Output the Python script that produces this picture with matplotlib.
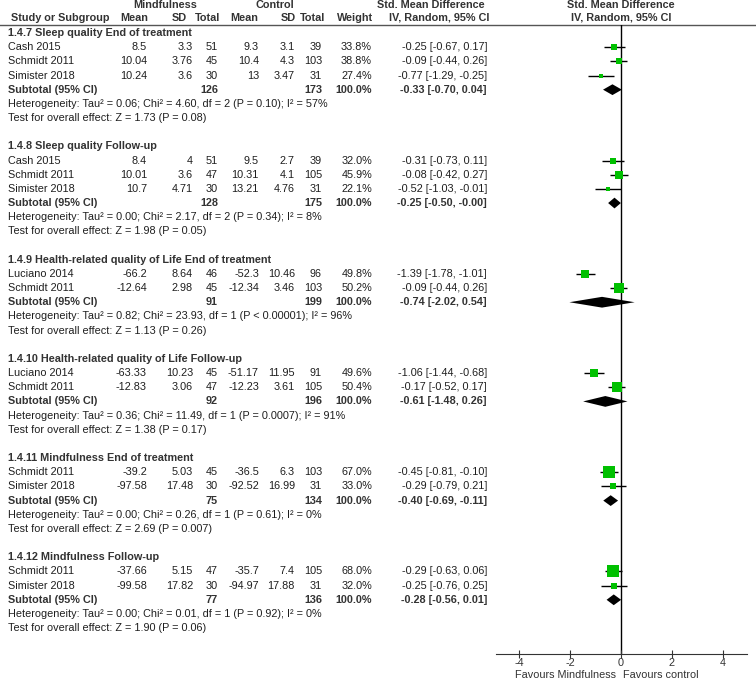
import numpy as np
import matplotlib
matplotlib.use("Agg")
import matplotlib.pyplot as plt

plt.rcParams['font.family'] = ['Liberation Sans', 'DejaVu Sans']
plt.rcParams['font.size'] = 7.8

# subgroup data
group_titles = ["1.4.7 Sleep quality End of treatment",
                "1.4.8 Sleep quality Follow-up",
                "1.4.9 Health-related quality of Life End of treatment",
                "1.4.10 Health-related quality of Life Follow-up",
                "1.4.11 Mindfulness End of treatment",
                "1.4.12 Mindfulness Follow-up"]
sub_n_mind = [126, 128, 91, 92, 75, 77]
sub_n_ctrl = [173, 175, 199, 196, 134, 136]
sub_smd = [-0.33, -0.25, -0.74, -0.61, -0.40, -0.28]
sub_lo = [-0.70, -0.50, -2.02, -1.48, -0.69, -0.56]
sub_hi = [0.04, -0.0, 0.54, 0.26, -0.11, 0.01]
het_tau2 = [0.06, 0.00, 0.82, 0.36, 0.00, 0.00]
het_chi2 = [4.60, 2.17, 23.93, 11.49, 0.26, 0.01]
het_df = [2, 2, 1, 1, 1, 1]
het_p = ["= 0.10", "= 0.34", "< 0.00001", "= 0.0007", "= 0.61", "= 0.92"]
het_i2 = [57, 8, 96, 91, 0, 0]
z_val = [1.73, 1.98, 1.13, 1.38, 2.69, 1.90]
z_p = ["0.08", "0.05", "0.26", "0.17", "0.007", "0.06"]

# study rows
study_group = [0, 0, 0, 1, 1, 1, 2, 2, 3, 3, 4, 4, 5, 5]
study_names = ["Cash 2015", "Schmidt 2011", "Simister 2018",
               "Cash 2015", "Schmidt 2011", "Simister 2018",
               "Luciano 2014", "Schmidt 2011",
               "Luciano 2014", "Schmidt 2011",
               "Schmidt 2011", "Simister 2018",
               "Schmidt 2011", "Simister 2018"]
mind_mean = [8.5, 10.04, 10.24, 8.4, 10.01, 10.7, -66.2, -12.64, -63.33, -12.83, -39.2, -97.58, -37.66, -99.58]
mind_sd = [3.3, 3.76, 3.6, 4, 3.6, 4.71, 8.64, 2.98, 10.23, 3.06, 5.03, 17.48, 5.15, 17.82]
mind_n = [51, 45, 30, 51, 47, 30, 46, 45, 45, 47, 45, 30, 47, 30]
ctrl_mean = [9.3, 10.4, 13, 9.5, 10.31, 13.21, -52.3, -12.34, -51.17, -12.23, -36.5, -92.52, -35.7, -94.97]
ctrl_sd = [3.1, 4.3, 3.47, 2.7, 4.1, 4.76, 10.46, 3.46, 11.95, 3.61, 6.3, 16.99, 7.4, 17.88]
ctrl_n = [39, 103, 31, 39, 105, 31, 96, 103, 91, 105, 103, 31, 105, 31]
weights = [33.8, 38.8, 27.4, 32.0, 45.9, 22.1, 49.8, 50.2, 49.6, 50.4, 67.0, 33.0, 68.0, 32.0]
smd = [-0.25, -0.09, -0.77, -0.31, -0.08, -0.52, -1.39, -0.09, -1.06, -0.17, -0.45, -0.29, -0.29, -0.25]
ci_lo = [-0.67, -0.44, -1.29, -0.73, -0.42, -1.03, -1.78, -0.44, -1.44, -0.52, -0.81, -0.79, -0.63, -0.76]
ci_hi = [0.17, 0.26, -0.25, 0.11, 0.27, -0.01, -1.01, 0.26, -0.68, 0.17, -0.10, 0.21, 0.06, 0.25]

xticks = [-4, -2, 0, 2, 4]

W, H = 756, 679
ROW0, DY = 33, 14.17
TXT = '#1e1e1e'
GREEN = '#00c000'


def row_of(px):
    return (px - ROW0) / DY


fig = plt.figure(figsize=(W / 100, H / 100), dpi=100)
ax_t = fig.add_axes([0, 0, 1, 1])
ax_t.set_xlim(0, W)
ax_t.set_ylim(row_of(H), row_of(0))
ax_t.axis('off')

ax_p = fig.add_axes([496 / W, 1 - 654 / H, 251 / W, (654 - 25) / H])
ax_p.set_xlim(-4.9, 4.95)
ax_p.set_ylim(row_of(654), row_of(25))
ax_p.patch.set_alpha(0)
for s in ['top', 'right', 'left']:
    ax_p.spines[s].set_visible(False)
ax_p.spines['bottom'].set_color('#333333')
ax_p.set_yticks([])
ax_p.set_xticks(xticks)
ax_p.set_xticklabels([f"{t:g}" for t in xticks], color='#333333')
ax_p.tick_params(axis='x', direction='inout', length=6, width=0.8, pad=0, color='#333333')
ax_p.axvline(0, color='black', lw=1, zorder=1)

# column headers
ax_t.axhline(row_of(25), color='#555555', lw=1)
hdr = dict(fontweight='bold', color='#333333', va='center')
ax_t.text(165, row_of(5), "Mindfulness", ha='center', **hdr)
ax_t.text(275, row_of(5), "Control", ha='center', **hdr)
ax_t.text(431, row_of(5), "Std. Mean Difference", ha='center', **hdr)
ax_t.text(621, row_of(5), "Std. Mean Difference", ha='center', **hdr)
ax_t.text(11, row_of(18), "Study or Subgroup", ha='left', **hdr)
for x, lab in [(148, "Mean"), (187, "SD"), (220, "Total"), (258, "Mean"),
               (296, "SD"), (325, "Total"), (373, "Weight")]:
    ax_t.text(x, row_of(18), lab, ha='right', **hdr)
ax_t.text(439, row_of(18), "IV, Random, 95% CI", ha='center', **hdr)
ax_t.text(621, row_of(18), "IV, Random, 95% CI", ha='center', **hdr)

num_cols = [147, 193, 218, 259, 295, 322, 372]
CI_X = 487

row = 0
for g, title in enumerate(group_titles):
    ax_t.text(8, row, title, ha='left', va='center', fontweight='bold', color='#333333')
    row += 1
    for k in [i for i, sg in enumerate(study_group) if sg == g]:
        ax_t.text(8, row, study_names[k], ha='left', va='center', color=TXT)
        vals = [f"{mind_mean[k]:g}", f"{mind_sd[k]:g}", f"{mind_n[k]}",
                f"{ctrl_mean[k]:g}", f"{ctrl_sd[k]:g}", f"{ctrl_n[k]}",
                f"{weights[k]:.1f}%"]
        for x, v in zip(num_cols, vals):
            ax_t.text(x, row, v, ha='right', va='center', color=TXT)
        ax_t.text(CI_X, row, f"{smd[k]:.2f} [{ci_lo[k]:.2f}, {ci_hi[k]:.2f}]",
                  ha='right', va='center', color=TXT)
        ax_p.hlines(row, ci_lo[k], ci_hi[k], color='black', lw=1.0, zorder=2)
        ax_p.plot(smd[k], row, 's', ms=0.18 * weights[k] * 0.72,
                  color=GREEN, mec=GREEN, mew=0, zorder=3)
        row += 1
    b = dict(ha='right', va='center', fontweight='bold', color='#333333')
    ax_t.text(8, row, "Subtotal (95% CI)", ha='left', va='center',
              fontweight='bold', color='#333333')
    ax_t.text(num_cols[2], row, f"{sub_n_mind[g]}", **b)
    ax_t.text(num_cols[5], row, f"{sub_n_ctrl[g]}", **b)
    ax_t.text(num_cols[6], row, "100.0%", **b)
    ax_t.text(CI_X, row, f"{sub_smd[g]:.2f} [{sub_lo[g]:.2f}, {sub_hi[g]:.2f}]", **b)
    h = 0.38
    ax_p.fill([sub_lo[g], sub_smd[g], sub_hi[g], sub_smd[g]],
              [row, row - h, row, row + h], color='black', lw=0, zorder=3)
    row += 1
    ax_t.text(8, row, f"Heterogeneity: Tau\u00b2 = {het_tau2[g]:.2f}; Chi\u00b2 = {het_chi2[g]:.2f}, "
                      f"df = {het_df[g]} (P {het_p[g]}); I\u00b2 = {het_i2[g]}%",
              ha='left', va='center', color=TXT)
    row += 1
    ax_t.text(8, row, f"Test for overall effect: Z = {z_val[g]:.2f} (P = {z_p[g]})",
              ha='left', va='center', color=TXT)
    row += 2

ax_t.text(616, row_of(675), "Favours Mindfulness", ha='right', va='center', color='#333333')
ax_t.text(623, row_of(675), "Favours control", ha='left', va='center', color='#333333')

fig.savefig("out.png", dpi=100)
